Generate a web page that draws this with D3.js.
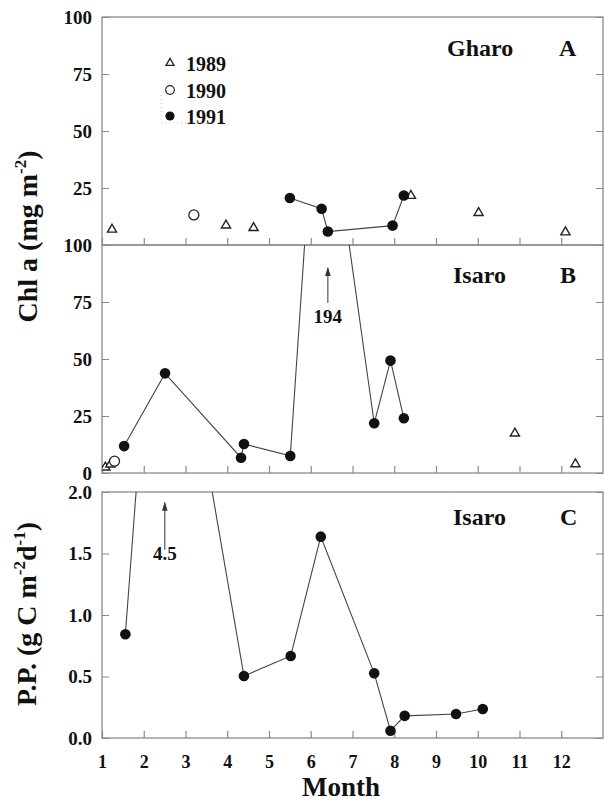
<!DOCTYPE html>
<html>
<head>
<meta charset="utf-8">
<script src="https://cdn.jsdelivr.net/npm/d3@7"></script>
<style>
  html, body { margin: 0; padding: 0; background: #fff; }
  svg { display: block; }
  text { font-family: "Liberation Serif", "Times New Roman", serif; font-weight: bold; fill: #111; }
</style>
</head>
<body>
<div id="chart"></div>
<script>
// ---------------- data ----------------
const months = [1,2,3,4,5,6,7,8,9,10,11,12];
const chlTicks = [0,25,50,75,100];
const ppTicks = [0,0.5,1.0,1.5,2.0];

// Panel A: Gharo, Chl a (mg m-2)  [month, value]
const gharo1989 = [[1.24,6.8],[3.97,8.6],[4.63,7.5],[8.40,21.6],[10.02,14.1],[12.10,5.6]];
const gharo1990 = [[3.20,13.2]];
const gharo1991 = [[5.50,20.6],[6.26,15.9],[6.41,5.9],[7.96,8.5],[8.23,21.7]];

// Panel B: Isaro, Chl a (mg m-2)
const isaro1989 = [[1.08,2.5],[1.20,3.8],[10.89,17.4],[12.34,3.9]];
const isaro1990 = [[1.30,5.2]];
const isaro1991 = [[1.53,11.8],[2.51,43.7],[4.33,6.7],[4.40,12.7],[5.51,7.5],[6.20,194],[7.52,21.8],[7.91,49.3],[8.23,24.0]];

// Panel C: Isaro, P.P. (g C m-2 d-1)
const isaroPP = [[1.56,0.843],[2.37,4.5],[4.40,0.504],[5.52,0.667],[6.24,1.637],[7.52,0.526],[7.91,0.059],[8.25,0.18],[9.48,0.195],[10.12,0.236]];

// off-scale annotations: [month, text]
const noteB = [6.41, "194"];
const noteC = [2.505, "4.5"];

const legendYears = ["1989","1990","1991"];

// ---------------- layout ----------------
const W = 605, H = 801;
const svg = d3.select("#chart").append("svg").attr("width", W).attr("height", H);

const x = d3.scaleLinear().domain([1,13]).range([102,603]);
const yA = d3.scaleLinear().domain([0,100]).range([245,17]);
const yB = d3.scaleLinear().domain([0,100]).range([473,245]);
const yC = d3.scaleLinear().domain([0,2]).range([738,492]);

const frameColor = "#8a8a8a";
const lineColor = "#444";

function panel(id, y, ticks, labelTicks, fmt, showX) {
  const g = svg.append("g");
  const [y0, y1] = y.range();
  // clip
  svg.append("clipPath").attr("id", id).append("rect")
    .attr("x", x(1)).attr("y", y1).attr("width", x(13)-x(1)).attr("height", y0-y1);
  // left axis
  const la = g.append("g").attr("transform", `translate(${x(1)},0)`)
    .call(d3.axisLeft(y).tickValues(ticks).tickSize(-7).tickPadding(10)
      .tickFormat(d => labelTicks.includes(d) ? fmt(d) : ""));
  la.select(".domain").remove();
  la.selectAll("line").attr("stroke", frameColor);
  la.selectAll("text").attr("font-size", 19).attr("fill", "#111")
    .attr("font-family", "Liberation Serif, serif").attr("font-weight", "bold");
  // right axis
  const ra = g.append("g").attr("transform", `translate(${x(13)},0)`)
    .call(d3.axisRight(y).tickValues(ticks).tickSize(-7).tickFormat(""));
  ra.select(".domain").remove();
  ra.selectAll("line").attr("stroke", frameColor);
  // bottom axis
  const ba = g.append("g").attr("transform", `translate(0,${y0})`)
    .call(d3.axisBottom(x).tickValues(months).tickSize(-7).tickPadding(17)
      .tickFormat(d => showX ? d : ""));
  ba.select(".domain").remove();
  ba.selectAll("line").attr("stroke", frameColor).attr("stroke-width", 1.2);
  ba.selectAll("text").attr("font-size", 18).attr("fill", "#111")
    .attr("font-family", "Liberation Serif, serif").attr("font-weight", "bold");
  // frame
  g.append("rect").attr("x", x(1)).attr("y", y1).attr("width", x(13)-x(1)).attr("height", y0-y1)
    .attr("fill", "none").attr("stroke", frameColor).attr("stroke-width", 1.3);
  const plot = svg.append("g").attr("clip-path", `url(#${id})`);
  return plot;
}

function drawLine(plot, y, data) {
  plot.append("path").datum(data)
    .attr("d", d3.line().x(d => x(d[0])).y(d => y(d[1])))
    .attr("fill", "none").attr("stroke", lineColor).attr("stroke-width", 1.1);
}
function drawTri(plot, y, data, size) {
  plot.selectAll(null).data(data).join("path")
    .attr("d", d3.symbol(d3.symbolTriangle, size || 36)())
    .attr("transform", d => `translate(${x(d[0])},${y(d[1])})`)
    .attr("fill", "#fff").attr("stroke", "#222").attr("stroke-width", 1.4);
}
function drawOpen(plot, y, data) {
  plot.selectAll(null).data(data).join("circle")
    .attr("cx", d => x(d[0])).attr("cy", d => y(d[1])).attr("r", 5)
    .attr("fill", "#fff").attr("stroke", "#222").attr("stroke-width", 1.3);
}
function drawFilled(plot, y, data) {
  plot.selectAll(null).data(data).join("circle")
    .attr("cx", d => x(d[0])).attr("cy", d => y(d[1])).attr("r", 5.3)
    .attr("fill", "#111");
}

// Panel A
const pA = panel("clipA", yA, chlTicks, [25,50,75,100], d => d, false);
drawLine(pA, yA, gharo1991);
drawTri(pA, yA, gharo1989);
drawOpen(pA, yA, gharo1990);
drawFilled(pA, yA, gharo1991);

// Panel B
const pB = panel("clipB", yB, chlTicks, [0,25,50,75,100], d => d, false);
drawLine(pB, yB, isaro1991);
drawTri(pB, yB, isaro1989);
drawOpen(pB, yB, isaro1990);
drawFilled(pB, yB, isaro1991);

// Panel C
const pC = panel("clipC", yC, ppTicks, ppTicks, d3.format(".1f"), true);
drawLine(pC, yC, isaroPP);
drawFilled(pC, yC, isaroPP);

// panel labels
function label(txt, x0, yb) {
  svg.append("text").attr("x", x0).attr("y", yb).attr("font-size", 24).text(txt);
}
label("Gharo", 447, 56); label("A", 559, 56);
label("Isaro", 453, 283); label("B", 560, 283);
label("Isaro", 453, 525); label("C", 560, 525);

// legend
const legG = svg.append("g");
const legY = [63, 90, 116];
legG.append("path").attr("d", d3.symbol(d3.symbolTriangle, 28)())
  .attr("transform", `translate(170,${legY[0]})`).attr("fill", "#fff").attr("stroke", "#222").attr("stroke-width", 1.3);
legG.append("circle").attr("cx", 170).attr("cy", legY[1]).attr("r", 4.3)
  .attr("fill", "#fff").attr("stroke", "#222").attr("stroke-width", 1.2);
legG.append("circle").attr("cx", 170).attr("cy", legY[2]).attr("r", 4.6).attr("fill", "#111");
legendYears.forEach((t, i) => {
  legG.append("text").attr("x", 186).attr("y", legY[i] + 7.5).attr("font-size", 20).text(t);
});
legG.append("path").attr("d", "M161,95 V123 H208")
  .attr("fill", "none").attr("stroke", "#bbb").attr("stroke-width", 0.8).attr("stroke-dasharray", "1,3");

// arrows for off-scale values
svg.append("defs").append("marker").attr("id", "ah").attr("viewBox", "0 0 10 10")
  .attr("refX", 5).attr("refY", 1).attr("markerWidth", 6).attr("markerHeight", 9).attr("orient", "auto-start-reverse")
  .attr("markerUnits", "userSpaceOnUse")
  .append("path").attr("d", "M1,10 L5,0 L9,10 L5,7 Z").attr("fill", "#333");
function arrow(note, y, vTail, vHead, vText) {
  const xx = x(note[0]);
  svg.append("line").attr("x1", xx).attr("x2", xx).attr("y1", y(vTail)).attr("y2", y(vHead) + 1)
    .attr("stroke", "#333").attr("stroke-width", 1);
  svg.append("path").attr("d", `M${xx-2.8},${y(vHead)+9} L${xx},${y(vHead)} L${xx+2.8},${y(vHead)+9} Z`).attr("fill", "#333");
  svg.append("text").attr("x", xx).attr("y", y(vText)).attr("text-anchor", "middle").attr("font-size", 19).text(note[1]);
}
arrow(noteB, yB, 74.6, 90.4, 65.8);
arrow(noteC, yC, 1.53, 1.92, 1.45);

// axis titles
const t1 = svg.append("text").attr("transform", "translate(37,236.5) rotate(-90)")
  .attr("text-anchor", "middle").attr("font-size", 28);
t1.append("tspan").text("Chl a (mg m");
t1.append("tspan").attr("font-size", 17).attr("dy", -11).text("-2");
t1.append("tspan").attr("dy", 11).text(")");

const t2 = svg.append("text").attr("transform", "translate(36,614) rotate(-90)")
  .attr("text-anchor", "middle").attr("font-size", 28);
t2.append("tspan").text("P.P. (g C m");
t2.append("tspan").attr("font-size", 17).attr("dy", -11).text("-2");
t2.append("tspan").attr("dy", 11).text("d");
t2.append("tspan").attr("font-size", 17).attr("dy", -11).text("-1");
t2.append("tspan").attr("dy", 11).text(")");

svg.append("text").attr("x", 341).attr("y", 796).attr("text-anchor", "middle").attr("font-size", 27).text("Month");
</script>
</body>
</html>
